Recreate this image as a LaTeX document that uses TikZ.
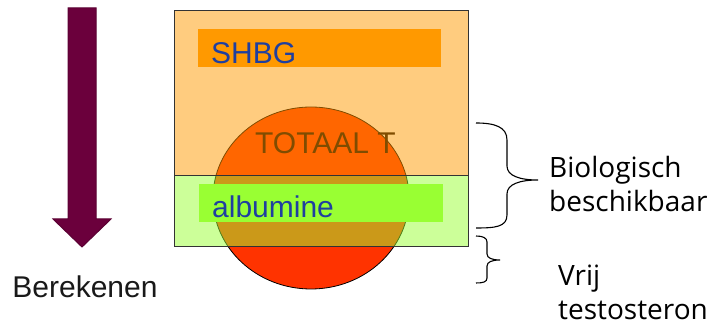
\documentclass[tikz,border=0pt]{standalone}
\usepackage{fontspec}
\setmainfont{Liberation Sans}
\newfontfamily\notefont{Open Sans}
\usepackage{tikz}
\usetikzlibrary{positioning}
\usepackage{xcolor}

\definecolor{wine}{HTML}{6B003C}
\definecolor{totalred}{HTML}{FF3300}
\definecolor{shbgorange}{HTML}{FF9900}
\definecolor{albgreen}{HTML}{99FF33}
\definecolor{labelblue}{HTML}{1F3FA0}

\tikzset{
  bigtext/.style={inner sep=0pt, font=\fontsize{30}{36}\selectfont},
  notetext/.style={inner sep=0pt, align=left, font=\notefont\fontsize{28}{34}\selectfont},
  layer/.style={draw=black!80, line width=0.8pt, fill opacity=0.5},
  brace/.style={draw=black, line width=1.1pt}
}

\begin{document}
\begin{tikzpicture}[x=1pt, y=1pt]
\useasboundingbox (0,0) rectangle (716,326);

% downward arrow
\filldraw[fill=wine, draw=wine!85!black, line width=1pt]
  (68,318) -- (96,318) -- (96,107) -- (111,107) -- (82,79) -- (53,107) -- (68,107) -- cycle;
\node[bigtext, text=black!90] (bereken) at (85,39) {Berekenen};

% total T, lies under the two bound fractions
\filldraw[fill=totalred, draw=black, line width=0.8pt] (311,128) ellipse [x radius=98pt, y radius=91pt];
\node[bigtext, anchor=base west, text=black] (totaal) at (255,172) {TOTAAL T};

% bound fractions
\filldraw[layer, fill=shbgorange] (174,151) rectangle (468,316);
\filldraw[layer, fill=albgreen] (174,80) rectangle (468,151);

\fill[shbgorange] (198,259) rectangle (441,297);
\node[bigtext, anchor=base west, text=labelblue] (shbg) at (211,262) {SHBG};
\fill[albgreen] (199,104) rectangle (443,142);
\node[bigtext, anchor=base west, text=labelblue] (albumine) at (212,108) {albumine};

% braces
\coordinate (biotip) at (538,146);
\coordinate (vrijtip) at (500,66);
\draw[brace] (476,203) .. controls (495,203) and (507,199) .. (507,186) -- (507,160)
  .. controls (507,150) and (520,146) .. (biotip)
  .. controls (520,146) and (507,142) .. (507,132) -- (507,111)
  .. controls (507,99) and (495,98) .. (476,98);
\draw[brace] (476,90) .. controls (483,90) and (487,88) .. (487,84) -- (487,72)
  .. controls (487,68) and (492,66) .. (vrijtip)
  .. controls (492,66) and (487,64) .. (487,60) -- (487,48)
  .. controls (487,44) and (483,43) .. (476,43);

% base anchor sits on the last line
\node[notetext, anchor=base west] (bio) at (549,114) {Biologisch\\beschikbaar};
\node[notetext, anchor=base west] (vrij) at (558,6) {Vrij\\testosteron};
\end{tikzpicture}
\end{document}
